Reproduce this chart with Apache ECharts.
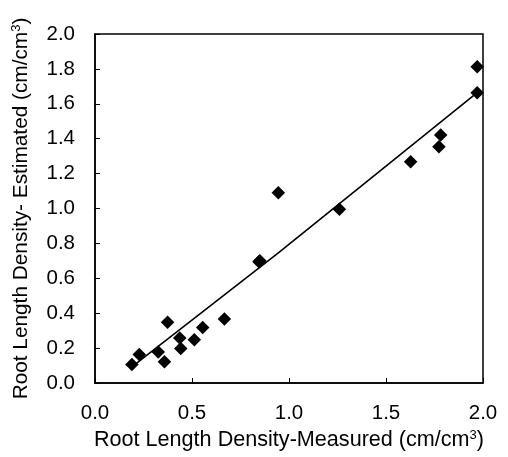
<!DOCTYPE html>
<html><head><meta charset="utf-8">
<script src="https://cdn.jsdelivr.net/npm/echarts@6/dist/echarts.min.js"></script>
<style>html,body{margin:0;padding:0;background:#fff}#c{width:508px;height:457px}</style>
</head><body><div id="c"></div>
<script>
var measured  = [0.19, 0.228, 0.326, 0.358, 0.374, 0.437, 0.442, 0.512, 0.555, 0.667, 0.845, 0.85, 0.945, 1.26, 1.627, 1.773, 1.782, 1.97, 1.97];
var estimated = [0.106, 0.164, 0.177, 0.122, 0.348, 0.258, 0.197, 0.248, 0.318, 0.367, 0.695, 0.70, 1.09, 0.995, 1.268, 1.354, 1.421, 1.664, 1.813];
var fitX = [0.19, 0.95, 1.97];
var fitY = [0.093, 0.75, 1.664];
var xTicks = ['0.0','0.5','1.0','1.5','2.0'];
var yTicks = ['0.0','0.2','0.4','0.6','0.8','1.0','1.2','1.4','1.6','1.8','2.0'];

var pts = measured.map(function(v,i){return [v, estimated[i]];});
var fit = fitX.map(function(v,i){return [v, fitY[i]];});
var font = 'Liberation Sans, Arial, sans-serif';
var chart = echarts.init(document.getElementById('c'));
chart.setOption({
  animation:false,
  grid:{left:95, top:34, right:25, bottom:74, show:true, borderColor:'#000', borderWidth:1.5},
  xAxis:{type:'value', min:0, max:2, interval:0.5,
    axisLine:{show:true, onZero:false, lineStyle:{color:'#000', width:1.5}},
    axisTick:{show:true, inside:true, length:5, lineStyle:{color:'#000'}},
    splitLine:{show:false},
    axisLabel:{margin:20, fontSize:20.5, color:'#000', fontFamily:font,
      formatter:function(v){return xTicks[Math.round(v/0.5)];}},
    name:'{a|Root Length Density-Measured (cm/cm}{s|3}{a|)}',
    nameLocation:'middle', nameGap:45,
    nameTextStyle:{rich:{a:{fontSize:21.6,color:'#000',fontFamily:font},s:{fontSize:13,color:'#000',fontFamily:font,verticalAlign:'top',padding:[0,0,10,0]}}}
  },
  yAxis:{type:'value', min:0, max:2, interval:0.2,
    axisLine:{show:true, onZero:false, lineStyle:{color:'#000', width:1.5}},
    axisTick:{show:true, inside:true, length:5, lineStyle:{color:'#000'}},
    splitLine:{show:false},
    axisLabel:{margin:20, fontSize:20.5, color:'#000', fontFamily:font,
      formatter:function(v){return yTicks[Math.round(v/0.2)];}},
    name:'{a|Root Length Density- Estimated (cm/cm}{s|3}{a|)}',
    nameLocation:'middle', nameGap:62,
    nameTextStyle:{rich:{a:{fontSize:20.8,color:'#000',fontFamily:font},s:{fontSize:13,color:'#000',fontFamily:font,verticalAlign:'top',padding:[0,0,10,0]}}}
  },
  series:[
    {type:'line', data:fit, symbol:'none', lineStyle:{color:'#000', width:1.6}, z:2},
    {type:'scatter', data:pts, symbol:'diamond', symbolSize:13.5, itemStyle:{color:'#000', opacity:1}, z:3}
  ]
});
</script></body></html>
